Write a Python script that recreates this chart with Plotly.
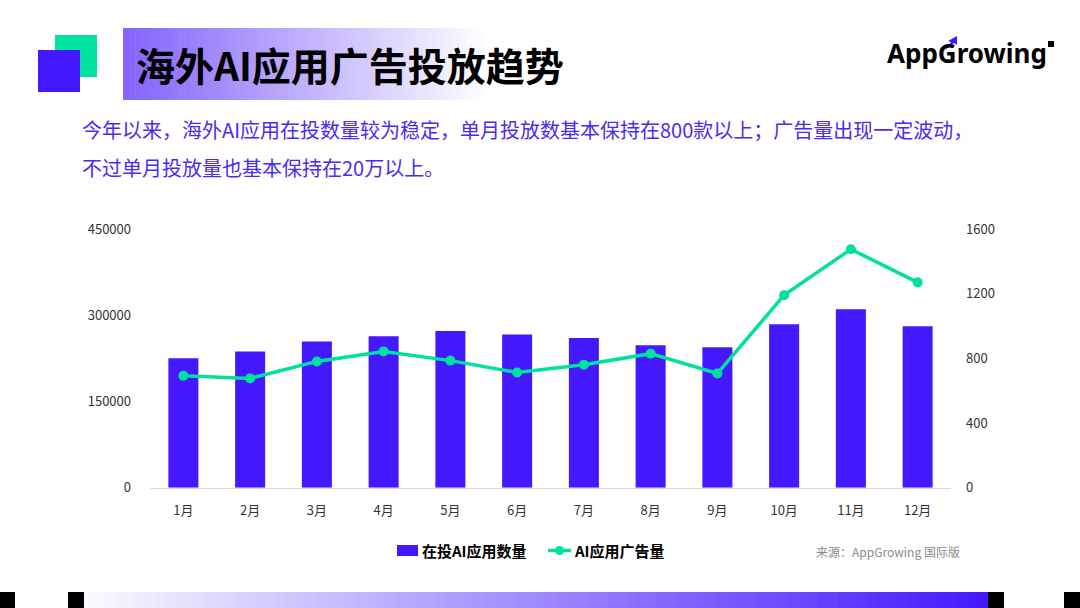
import plotly.graph_objects as go

FONT = "Noto Sans CJK SC, Noto Sans, sans-serif"
PURPLE = "#4419FF"
GREEN = "#00E09E"
W, H = 1080, 608

months = ["1月", "2月", "3月", "4月", "5月", "6月", "7月", "8月", "9月", "10月", "11月", "12月"]
apps_in_market = [225000, 237000, 254500, 263500, 272500, 266500, 260500, 248000, 244500, 284500, 310500, 281000]
ad_volume = [692, 676, 781, 843, 786, 713, 761, 829, 707, 1191, 1475, 1270]
left_ticks = [0, 150000, 300000, 450000]
right_ticks = [0, 400, 800, 1200, 1600]

title_text = "海外AI应用广告投放趋势"
subtitle_lines = [
    "今年以来，海外AI应用在投数量较为稳定，单月投放数基本保持在800款以上；广告量出现一定波动，",
    "不过单月投放量也基本保持在20万以上。",
]
legend_bar = "在投AI应用数量"
legend_line = "AI应用广告量"
source_text = "来源：AppGrowing 国际版"


def px(x):
    return x / W


def py(y):
    return 1 - y / H


def mix(c1, c2, t):
    return "rgb(%d,%d,%d)" % tuple(round(a + (b - a) * t) for a, b in zip(c1, c2))


def gradient_strips(x0, x1, y0, y1, c_left, c_right, n):
    shapes = []
    step = (x1 - x0) / n
    for i in range(n):
        shapes.append(dict(
            type="rect", xref="paper", yref="paper",
            x0=px(x0 + i * step), x1=px(x0 + (i + 1) * step + 0.6),
            y0=py(y1), y1=py(y0),
            fillcolor=mix(c_left, c_right, i / (n - 1)),
            line=dict(width=0), layer="below",
        ))
    return shapes


fig = go.Figure()
fig.add_trace(go.Bar(
    x=months, y=apps_in_market, name=legend_bar,
    marker=dict(color=PURPLE, line=dict(width=0)),
    yaxis="y",
))
fig.add_trace(go.Scatter(
    x=months, y=ad_volume, name=legend_line, mode="lines+markers",
    line=dict(color=GREEN, width=3.5),
    marker=dict(color=GREEN, size=10),
    yaxis="y2",
))

tick_font = dict(family=FONT, size=13, color="#333333")
fig.update_layout(
    width=W, height=H,
    paper_bgcolor="white", plot_bgcolor="white",
    margin=dict(l=0, r=0, t=0, b=0, autoexpand=False),
    showlegend=False,
    bargap=0.55,
    font=dict(family=FONT),
    xaxis=dict(
        domain=[px(150), px(951)], range=[-0.5, len(months) - 0.5],
        showgrid=False, showline=True,
        linecolor="#D9D9D9", linewidth=1, ticks="", tickfont=tick_font,
        ticklabelstandoff=11,
    ),
    yaxis=dict(
        domain=[py(487.7), py(229)], range=[0, 450000], tickvals=left_ticks,
        showgrid=False, zeroline=False, showline=False, tickfont=tick_font,
        ticklabelstandoff=18, tickformat="d",
    ),
    yaxis2=dict(
        overlaying="y", side="right", range=[0, 1600], tickvals=right_ticks,
        showgrid=False, zeroline=False, showline=False, tickfont=tick_font,
        ticklabelstandoff=14,
    ),
)

shapes = []
# title box gradient
shapes += gradient_strips(123, 490, 28, 100, (132, 100, 250), (255, 255, 255), 60)
# decorative squares
shapes.append(dict(type="rect", xref="paper", yref="paper", x0=px(55), x1=px(97),
                   y0=py(77), y1=py(35), fillcolor="#00E3A1", line=dict(width=0)))
shapes.append(dict(type="rect", xref="paper", yref="paper", x0=px(38), x1=px(80),
                   y0=py(92), y1=py(50), fillcolor=PURPLE, line=dict(width=0)))
# bottom bar
shapes += gradient_strips(84, 988, 592, 608, (250, 249, 255), (68, 25, 255), 90)
for x0, x1 in [(0, 15), (68, 84), (988, 1004), (1064, 1080)]:
    shapes.append(dict(type="rect", xref="paper", yref="paper", x0=px(x0), x1=px(x1),
                       y0=py(608), y1=py(592), fillcolor="black", line=dict(width=0)))
# logo marks
shapes.append(dict(type="rect", xref="paper", yref="paper", x0=px(1048), x1=px(1054),
                   y0=py(47), y1=py(41), fillcolor="black", line=dict(width=0)))
shapes.append(dict(type="path", xref="paper", yref="paper",
                   path="M %f %f L %f %f L %f %f L %f %f L %f %f L %f %f Z" % (
                       px(945), py(50), px(951), py(42), px(948), py(41),
                       px(957), py(36), px(957), py(45), px(954), py(43)),
                   fillcolor=PURPLE, line=dict(width=0)))
# legend marks
shapes.append(dict(type="rect", xref="paper", yref="paper", x0=px(397), x1=px(418),
                   y0=py(556), y1=py(545), fillcolor=PURPLE, line=dict(width=0)))
shapes.append(dict(type="line", xref="paper", yref="paper", x0=px(548), x1=px(571),
                   y0=py(550.5), y1=py(550.5), line=dict(color=GREEN, width=3.5)))
shapes.append(dict(type="circle", xref="paper", yref="paper", x0=px(555), x1=px(564),
                   y0=py(555), y1=py(546), fillcolor=GREEN, line=dict(width=0)))
fig.update_layout(shapes=shapes)

ann = [
    dict(text="<b>" + title_text + "</b>", x=px(134), y=py(64), xanchor="left", yanchor="middle",
         font=dict(family=FONT, size=39, color="black")),
    dict(text="<b>AppGrowing</b>", x=px(885), y=py(53), xanchor="left", yanchor="middle",
         font=dict(family="Noto Sans, sans-serif", size=26, color="black")),
    dict(text=subtitle_lines[0], x=px(80), y=py(130), xanchor="left", yanchor="middle",
         font=dict(family=FONT, size=20, color="#4A2BF2")),
    dict(text=subtitle_lines[1], x=px(80), y=py(167), xanchor="left", yanchor="middle",
         font=dict(family=FONT, size=20, color="#4A2BF2")),
    dict(text="<b>" + legend_bar + "</b>", x=px(420), y=py(550.5), xanchor="left", yanchor="middle",
         font=dict(family=FONT, size=15, color="black")),
    dict(text="<b>" + legend_line + "</b>", x=px(572), y=py(550.5), xanchor="left", yanchor="middle",
         font=dict(family=FONT, size=15, color="black")),
    dict(text=source_text, x=px(962), y=py(551), xanchor="right", yanchor="middle",
         font=dict(family=FONT, size=12, color="#8C8C8C")),
]
for a in ann:
    a.update(xref="paper", yref="paper", showarrow=False)
fig.update_layout(annotations=ann)

fig.write_html("out.html", config={"displayModeBar": False},
               post_script="document.body.style.margin='0';")
